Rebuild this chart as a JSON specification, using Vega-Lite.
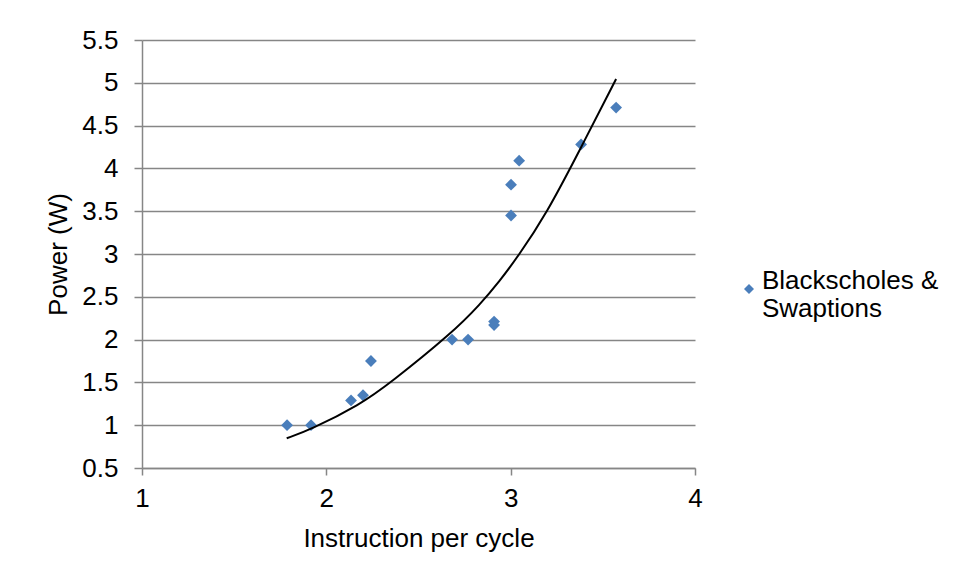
{
  "$schema": "https://vega.github.io/schema/vega-lite/v6.json",
  "autosize": {"type": "none"},
  "width": 553,
  "height": 428,
  "padding": {"left": 142, "top": 40, "right": 261, "bottom": 112},
  "background": "white",
  "config": {
    "view": {"stroke": null},
    "font": "Liberation Sans",
    "axis": {"labelFont": "Liberation Sans", "titleFont": "Liberation Sans", "labelColor": "#000000", "titleColor": "#000000", "titleFontWeight": "normal", "labelFontSize": 26, "titleFontSize": 26, "domainColor": "#868686", "tickColor": "#868686", "gridColor": "#868686", "gridOpacity": 1, "domainWidth": 1.5, "tickWidth": 1.5, "gridWidth": 1.5}
  },
  "datasets": {
    "points": [
      {"ipc": 1.787, "power": 1.0, "series": "Blackscholes & Swaptions"},
      {"ipc": 1.917, "power": 1.0, "series": "Blackscholes & Swaptions"},
      {"ipc": 2.134, "power": 1.29, "series": "Blackscholes & Swaptions"},
      {"ipc": 2.199, "power": 1.35, "series": "Blackscholes & Swaptions"},
      {"ipc": 2.242, "power": 1.75, "series": "Blackscholes & Swaptions"},
      {"ipc": 2.682, "power": 2.0, "series": "Blackscholes & Swaptions"},
      {"ipc": 2.769, "power": 2.0, "series": "Blackscholes & Swaptions"},
      {"ipc": 2.91, "power": 2.21, "series": "Blackscholes & Swaptions"},
      {"ipc": 2.91, "power": 2.17, "series": "Blackscholes & Swaptions"},
      {"ipc": 3.002, "power": 3.45, "series": "Blackscholes & Swaptions"},
      {"ipc": 3.002, "power": 3.81, "series": "Blackscholes & Swaptions"},
      {"ipc": 3.046, "power": 4.09, "series": "Blackscholes & Swaptions"},
      {"ipc": 3.382, "power": 4.28, "series": "Blackscholes & Swaptions"},
      {"ipc": 3.572, "power": 4.71, "series": "Blackscholes & Swaptions"}
    ],
    "trend": [
      {"ipc": 1.785, "power": 0.847},
      {"ipc": 1.911, "power": 0.944},
      {"ipc": 2.183, "power": 1.24},
      {"ipc": 2.345, "power": 1.49},
      {"ipc": 2.68, "power": 2.074},
      {"ipc": 2.834, "power": 2.41},
      {"ipc": 2.942, "power": 2.69},
      {"ipc": 3.033, "power": 2.95},
      {"ipc": 3.196, "power": 3.476},
      {"ipc": 3.376, "power": 4.22},
      {"ipc": 3.572, "power": 5.044}
    ]
  },
  "layer": [
    {
      "data": {"name": "points"},
      "mark": {"type": "point", "shape": "diamond", "filled": true, "size": 140, "opacity": 1},
      "encoding": {
        "x": {"field": "ipc", "type": "quantitative", "scale": {"domain": [1, 4], "nice": false, "zero": false},
          "axis": {"title": "Instruction per cycle", "values": [1, 2, 3, 4], "format": "d", "grid": false, "tickSize": 7, "labelPadding": 10, "titlePadding": 14, "labelFlush": false}},
        "y": {"field": "power", "type": "quantitative", "scale": {"domain": [0.5, 5.5], "nice": false, "zero": false},
          "axis": {"title": "Power (W)", "values": [0.5, 1, 1.5, 2, 2.5, 3, 3.5, 4, 4.5, 5, 5.5], "format": "~g", "tickSize": 8, "labelPadding": 16, "titlePadding": 10, "labelFlush": false}},
        "color": {"field": "series", "type": "nominal", "scale": {"range": ["#4A7EBB"]},
          "legend": {"title": null, "orient": "none", "legendX": 594, "legendY": 236, "symbolType": "diamond", "symbolSize": 100, "labelFontSize": 26, "labelFont": "Liberation Sans", "labelColor": "#000000", "labelLimit": 400, "labelExpr": "['Blackscholes &', 'Swaptions']", "labelBaseline": "alphabetic", "labelOffset": 0}}
      }
    },
    {
      "data": {"name": "trend"},
      "mark": {"type": "line", "color": "#000000", "strokeWidth": 2, "interpolate": "basis"},
      "encoding": {
        "x": {"field": "ipc", "type": "quantitative"},
        "y": {"field": "power", "type": "quantitative"}
      }
    }
  ]
}
